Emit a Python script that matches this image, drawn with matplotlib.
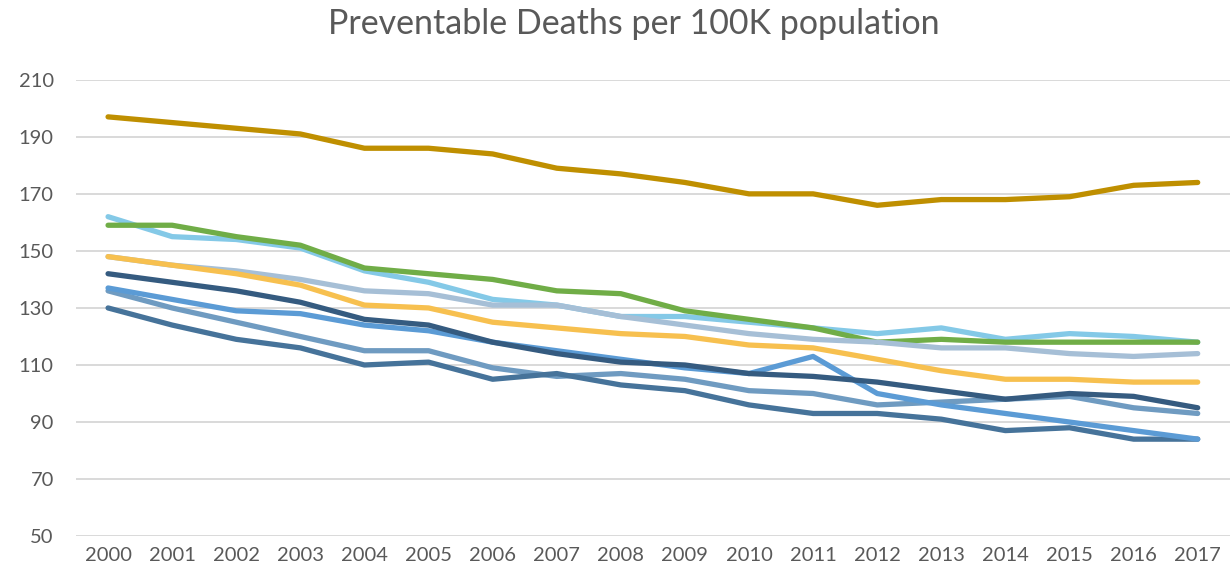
import numpy as np
import matplotlib
matplotlib.use("Agg")
import matplotlib.pyplot as plt

years = [str(y) for y in range(2000, 2018)]

gold = [197, 195, 193, 191, 186, 186, 184, 179, 177, 174, 170, 170, 166, 168, 168, 169, 173, 174]
light_blue = [162, 155, 154, 151, 143, 139, 133, 131, 127, 127, 125, 123, 121, 123, 119, 121, 120, 118]
green = [159, 159, 155, 152, 144, 142, 140, 136, 135, 129, 126, 123, 118, 119, 118, 118, 118, 118]
grey_blue = [148, 145, 143, 140, 136, 135, 131, 131, 127, 124, 121, 119, 118, 116, 116, 114, 113, 114]
yellow = [148, 145, 142, 138, 131, 130, 125, 123, 121, 120, 117, 116, 112, 108, 105, 105, 104, 104]
steel = [136, 130, 125, 120, 115, 115, 109, 106, 107, 105, 101, 100, 96, 97, 98, 99, 95, 93]
dark_steel = [130, 124, 119, 116, 110, 111, 105, 107, 103, 101, 96, 93, 93, 91, 87, 88, 84, 84]
mid_blue = [137, 133, 129, 128, 124, 122, 118, 115, 112, 109, 107, 113, 100, 96, 93, 90, 87, 84]
navy = [142, 139, 136, 132, 126, 124, 118, 114, 111, 110, 107, 106, 104, 101, 98, 100, 99, 95]

series = [
    (gold, '#BF8F00'),
    (light_blue, '#84C9E7'),
    (green, '#70AD47'),
    (grey_blue, '#A6BFD6'),
    (yellow, '#F7C04F'),
    (steel, '#6F9BC1'),
    (dark_steel, '#46739A'),
    (mid_blue, '#5B9BD5'),
    (navy, '#355B80'),
]

plt.rcParams['font.family'] = ['Lato', 'DejaVu Sans']

fig = plt.figure(figsize=(12.3, 5.74), dpi=100)
ax = fig.add_axes([0.0618, 0.066, 0.938, 0.795])

x = np.arange(len(years))
for vals, col in series:
    ax.plot(x, vals, color=col, lw=3.8, solid_capstyle='round', solid_joinstyle='round', zorder=3)

ax.set_xlim(-0.5, len(years) - 0.5)
ax.set_ylim(50, 210)
ax.set_yticks(range(50, 211, 20))
ax.set_xticks(x)
ax.set_xticklabels(years)
ax.yaxis.grid(True, color='#D9D9D9', lw=1.4, zorder=0)
ax.set_axisbelow(True)
for s in ax.spines.values():
    s.set_visible(False)
ax.tick_params(axis='both', length=0, labelsize=14.5, labelcolor='#595959')
ax.tick_params(axis='y', pad=16)
ax.tick_params(axis='x', pad=8)

fig.text(0.515, 0.958, 'Preventable Deaths per 100K population', ha='center', va='center',
         fontsize=24.5, color='#595959')

fig.savefig('out.png', dpi=100)
